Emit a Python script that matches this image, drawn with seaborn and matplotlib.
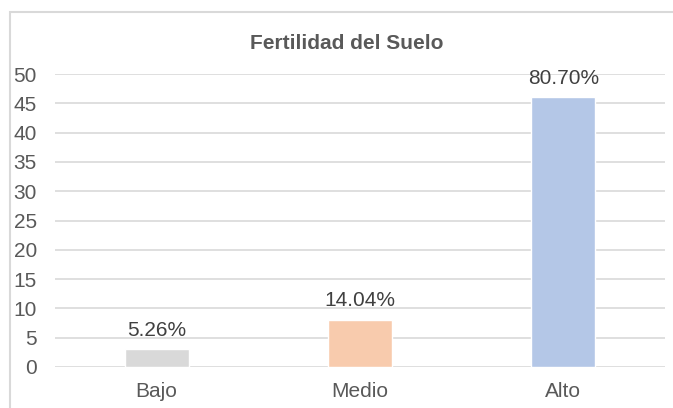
import seaborn as sns
import pandas as pd
import matplotlib.pyplot as plt
from matplotlib.patches import Rectangle

categorias = ['Bajo', 'Medio', 'Alto']
valores = [3, 8, 46]
etiquetas = ['5.26%', '14.04%', '80.70%']
colores = ['#D9D9D9', '#F8CBAD', '#B4C7E7']

df = pd.DataFrame({'nivel': categorias, 'n': valores})

sns.set_style('white')
plt.rcParams['font.family'] = ['Liberation Sans', 'DejaVu Sans']

W, H = 673, 408
fig = plt.figure(figsize=(W / 100, H / 100), dpi=100)
ax = fig.add_axes([55 / W, 1 - 367 / H, (665 - 55) / W, (367 - 74) / H])

sns.barplot(data=df, x='nivel', y='n', hue='nivel', palette=colores,
            saturation=1, width=0.315, legend=False, ax=ax, zorder=3)

for cont, lab in zip(ax.containers, etiquetas):
    ax.bar_label(cont, labels=[lab], padding=7, fontsize=15, color='#404040')

ax.set_ylim(0, 50)
ax.set_xlim(-0.5, 2.5)
ax.set_yticks(range(0, 51, 5))
ax.yaxis.grid(True, color='#D9D9D9', lw=1.2, zorder=0)
ax.tick_params(axis='both', length=0, labelsize=15, labelcolor='#595959')
ax.tick_params(axis='y', pad=13)
ax.tick_params(axis='x', pad=11)
ax.set_xlabel('')
ax.set_ylabel('')
for s in ax.spines.values():
    s.set_visible(False)

fig.text(347 / W, 1 - 49 / H, 'Fertilidad del Suelo', ha='center', va='baseline',
         fontsize=15, fontweight='bold', color='#595959')

# marco del grafico (recortado a la derecha y abajo)
fig.patches.append(Rectangle((10 / W, -0.05), 1.0, 1.05 - 12 / H,
                             transform=fig.transFigure, fill=False,
                             edgecolor='#D9D9D9', lw=1.5))

fig.savefig('out.png', dpi=100)
